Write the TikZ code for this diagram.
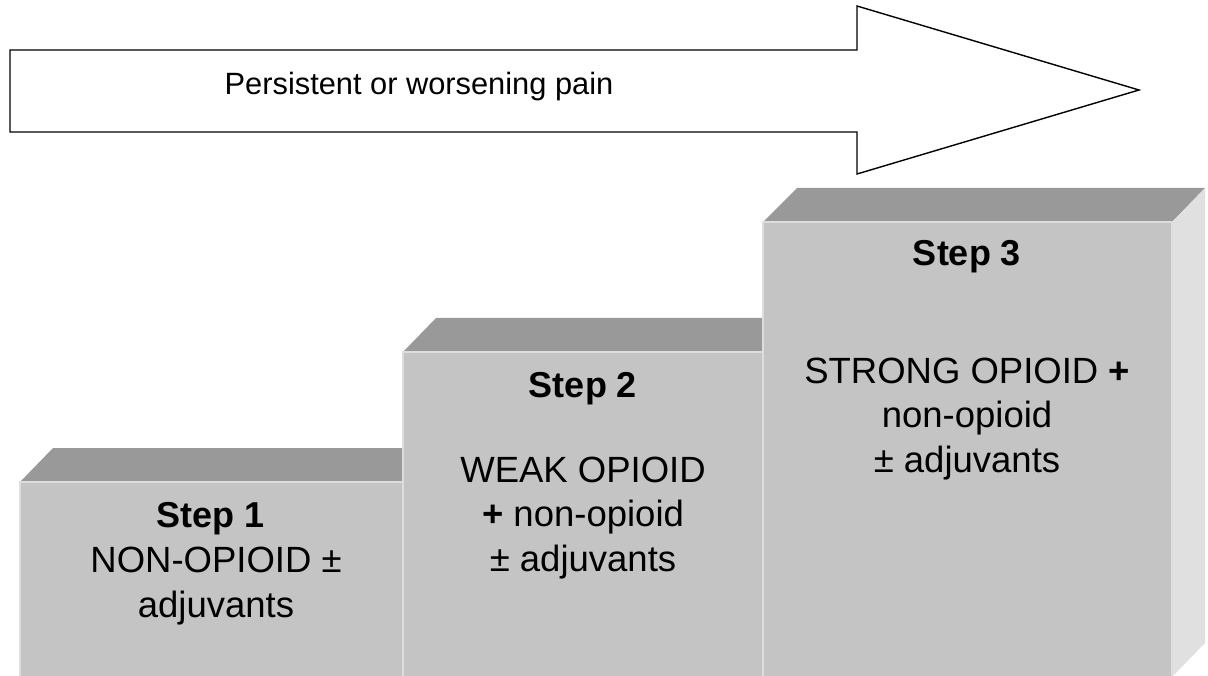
\documentclass[tikz,border=0pt]{standalone}
\usepackage{fontspec}
\setmainfont{Liberation Sans}
\definecolor{facegray}{HTML}{C4C4C4}
\definecolor{topgray}{HTML}{999999}
\definecolor{sidegray}{HTML}{E0E0E0}
\definecolor{edgegray}{HTML}{DDDDDD}
\tikzset{
  face/.style={fill=facegray, draw=edgegray, line width=1.2pt},
  bevel/.style={fill=topgray, draw=none},
  side/.style={fill=sidegray, draw=none},
  bigarrow/.style={draw=black, fill=white, line width=1.4pt, line join=miter},
  txt/.style={anchor=base, inner sep=0pt, font=\fontsize{36.5}{43}\selectfont},
  steptxt/.style={txt, font=\fontsize{36}{43}\selectfont\bfseries},
  arrowtxt/.style={anchor=base, inner sep=0pt, font=\fontsize{30.8}{36}\selectfont}
}
\begin{document}
\begin{tikzpicture}[x=1pt,y=-1pt]
\useasboundingbox (0,0) rectangle (1208,676);
% arrow
\draw[bigarrow] (10,50) -- (857,50) -- (857,6) -- (1139,90) -- (857,174) -- (857,132) -- (10,132) -- cycle;
\node[arrowtxt] (pain) at (419,95) {Persistent or worsening pain};
% step 1
\fill[bevel] (20,482) -- (53,448) -- (436,448) -- (403,482) -- cycle;
\draw[face] (20,677) -- (20,482) -- (403,482) -- (403,677);
% step 2
\fill[bevel] (403,352) -- (436,318) -- (796,318) -- (763,352) -- cycle;
\draw[face] (403,677) -- (403,352) -- (763,352) -- (763,677);
% step 3
\fill[bevel] (763,222) -- (797,188) -- (1205,188) -- (1172,222) -- cycle;
\fill[side] (1172,222) -- (1205,188) -- (1205,643) -- (1172,677) -- cycle;
\draw[face] (763,677) -- (763,222) -- (1172,222) -- (1172,677);
% texts
\node[steptxt] (s1t) at (211,527) {Step 1};
\node[txt] (s1a) at (216,572) {NON-OPIOID ±};
\node[txt] (s1b) at (216,617) {adjuvants};
\node[steptxt] (s2t) at (583,397) {Step 2};
\node[txt] (s2a) at (583,482) {WEAK OPIOID};
\node[txt] (s2b) at (583,526) {\textbf{+} non-opioid};
\node[txt] (s2c) at (583,571) {± adjuvants};
\node[steptxt] (s3t) at (967,266) {Step 3};
\node[txt] (s3a) at (967,384) {STRONG OPIOID \textbf{+}};
\node[txt] (s3b) at (967,427) {non-opioid};
\node[txt] (s3c) at (967,472) {± adjuvants};
\end{tikzpicture}
\end{document}
